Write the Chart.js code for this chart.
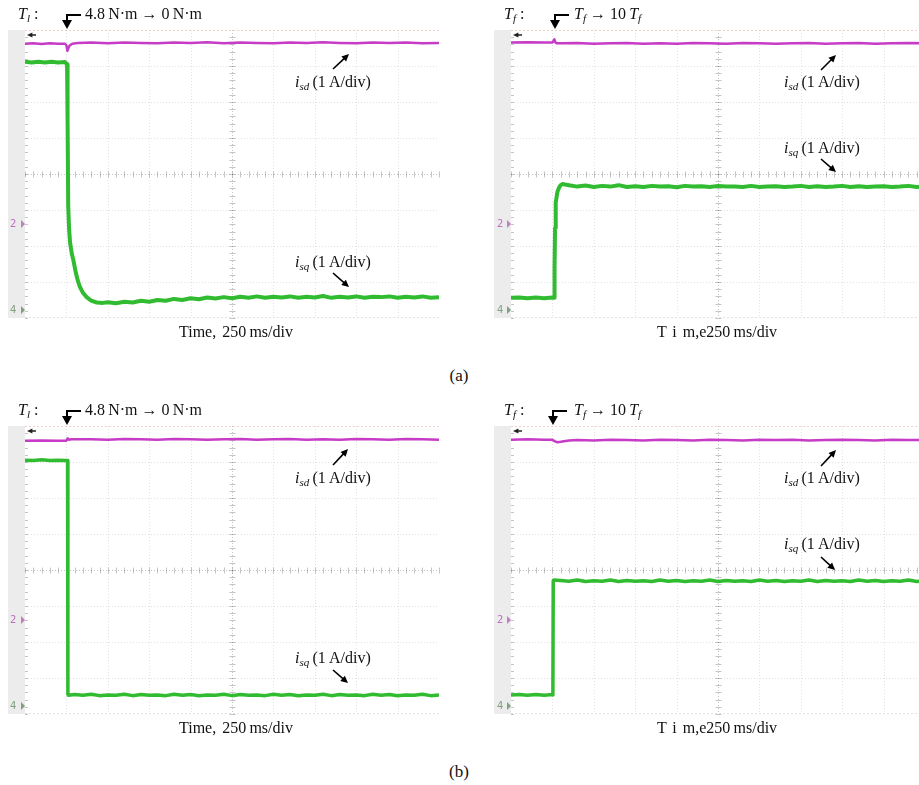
<!DOCTYPE html>
<html>
<head>
<meta charset="utf-8">
<script src="https://cdn.jsdelivr.net/npm/chart.js@4.4.0/dist/chart.umd.min.js"></script>
<style>
  html, body { margin: 0; padding: 0; background: #fff; overflow: hidden; }
  body { width: 919px; height: 785px; position: relative; font-family: "Liberation Serif", "DejaVu Serif", serif; color: #111; }
  canvas { position: absolute; }
  .lbl { position: absolute; white-space: nowrap; font-size: 16px; line-height: 16px; }
  .lbl sub { font-size: 11px; vertical-align: -3px; line-height: 0; }
  .mid { transform: translateX(-50%); }
  .ax { word-spacing: 2px; }
  .cap { font-size: 17px; line-height: 17px; }
  .ch { position: absolute; font-family: "DejaVu Sans", sans-serif; font-size: 10px; line-height: 10px; }
</style>
</head>
<body>
<canvas id="scopeA1" width="459" height="345" style="left:0;top:0"></canvas>
<canvas id="scopeA2" width="480" height="345" style="left:459px;top:0"></canvas>
<canvas id="scopeB1" width="459" height="345" style="left:0;top:396px"></canvas>
<canvas id="scopeB2" width="480" height="345" style="left:459px;top:396px"></canvas>

<!-- (a) -->
<div class="lbl" style="left:18px;top:6px"><i>T</i><sub><i>l</i></sub> :</div>
<div class="lbl" style="left:85px;top:6px">4.8&thinsp;N·m → 0&thinsp;N·m</div>
<div class="lbl" style="left:504px;top:6px"><i>T</i><sub><i>f</i></sub> :</div>
<div class="lbl" style="left:574px;top:6px"><i>T</i><sub><i>f</i></sub> → 10&thinsp;<i>T</i><sub><i>f</i></sub></div>
<div class="lbl" style="left:295px;top:74px"><i>i</i><sub><i>sd</i></sub>&thinsp;(1&thinsp;A/div)</div>
<div class="lbl" style="left:295px;top:254px"><i>i</i><sub><i>sq</i></sub>&thinsp;(1&thinsp;A/div)</div>
<div class="lbl" style="left:784px;top:74px"><i>i</i><sub><i>sd</i></sub>&thinsp;(1&thinsp;A/div)</div>
<div class="lbl" style="left:784px;top:140px"><i>i</i><sub><i>sq</i></sub>&thinsp;(1&thinsp;A/div)</div>
<div class="lbl mid ax" style="left:236px;top:324px">Time, 250&thinsp;ms/div</div>
<div class="lbl mid ax" style="left:717px;top:324px">T i m,e250&thinsp;ms/div</div>
<div class="lbl mid cap" style="left:459px;top:367px">(a)</div>

<!-- (b) -->
<div class="lbl" style="left:18px;top:402px"><i>T</i><sub><i>l</i></sub> :</div>
<div class="lbl" style="left:85px;top:402px">4.8&thinsp;N·m → 0&thinsp;N·m</div>
<div class="lbl" style="left:504px;top:402px"><i>T</i><sub><i>f</i></sub> :</div>
<div class="lbl" style="left:574px;top:402px"><i>T</i><sub><i>f</i></sub> → 10&thinsp;<i>T</i><sub><i>f</i></sub></div>
<div class="lbl" style="left:295px;top:470px"><i>i</i><sub><i>sd</i></sub>&thinsp;(1&thinsp;A/div)</div>
<div class="lbl" style="left:295px;top:650px"><i>i</i><sub><i>sq</i></sub>&thinsp;(1&thinsp;A/div)</div>
<div class="lbl" style="left:784px;top:470px"><i>i</i><sub><i>sd</i></sub>&thinsp;(1&thinsp;A/div)</div>
<div class="lbl" style="left:784px;top:536px"><i>i</i><sub><i>sq</i></sub>&thinsp;(1&thinsp;A/div)</div>
<div class="lbl mid ax" style="left:236px;top:720px">Time, 250&thinsp;ms/div</div>
<div class="lbl mid ax" style="left:717px;top:720px">T i m,e250&thinsp;ms/div</div>
<div class="lbl mid cap" style="left:459px;top:763px">(b)</div>

<!-- channel markers -->
<div class="ch" style="left:10px;top:219px;color:#c070c0">2</div>
<div class="ch" style="left:10px;top:305px;color:#80a080">4</div>
<div class="ch" style="left:497px;top:219px;color:#c070c0">2</div>
<div class="ch" style="left:497px;top:305px;color:#80a080">4</div>
<div class="ch" style="left:10px;top:615px;color:#c070c0">2</div>
<div class="ch" style="left:10px;top:701px;color:#80a080">4</div>
<div class="ch" style="left:497px;top:615px;color:#c070c0">2</div>
<div class="ch" style="left:497px;top:701px;color:#80a080">4</div>

<script>
// time in ms (250 ms/div, 10 div), values in divisions (1 A/div, -4..4)

// (a) left: load torque step 4.8 N·m -> 0 N·m
const tA1d = [0, 50, 100, 150, 200, 240, 250, 256, 262, 270, 285, 320,
  400, 500, 600, 700, 800, 900, 1000, 1100, 1200, 1300, 1400, 1500, 1600, 1700, 1800, 1900, 2000, 2100, 2200, 2300, 2400, 2500];
const vA1d = [3.62, 3.63, 3.61, 3.63, 3.62, 3.62, 3.58, 3.42, 3.50, 3.57, 3.62, 3.64,
  3.65, 3.63, 3.65, 3.64, 3.63, 3.65, 3.64, 3.66, 3.63, 3.65, 3.64, 3.63, 3.65, 3.64, 3.66, 3.64, 3.63, 3.65, 3.64, 3.65, 3.63, 3.64];
const tA1q = [0, 40, 80, 120, 160, 200, 240,
  254, 257, 261, 266, 272, 282, 292, 305, 318, 332, 350, 372, 400, 433, 470,
  500, 550, 600, 650, 700, 750, 800, 850, 900, 950,
  1000, 1050, 1100, 1150, 1200, 1250, 1300, 1350, 1400, 1450,
  1500, 1550, 1600, 1650, 1700, 1750, 1800, 1850, 1900, 1950,
  2000, 2050, 2100, 2150, 2200, 2250, 2300, 2350, 2400, 2450, 2500];
const vA1q = [3.12, 3.10, 3.12, 3.10, 3.12, 3.10, 3.11,
  3.05, 1.5, -0.9, -1.5, -1.9, -2.2, -2.39, -2.7, -2.95, -3.14, -3.3, -3.42, -3.52, -3.57, -3.58,
  -3.56, -3.59, -3.55, -3.57, -3.52, -3.55, -3.50, -3.52, -3.47, -3.50,
  -3.45, -3.48, -3.43, -3.46, -3.42, -3.45, -3.41, -3.44, -3.40, -3.44,
  -3.41, -3.43, -3.40, -3.44, -3.41, -3.43, -3.39, -3.44, -3.41, -3.43,
  -3.40, -3.44, -3.41, -3.42, -3.40, -3.44, -3.41, -3.43, -3.40, -3.44, -3.42];

// (a) right: friction step Tf -> 10 Tf
const tA2d = [0, 100, 200, 250, 262, 268, 275, 300,
  400, 500, 600, 700, 800, 900, 1000, 1100, 1200, 1300, 1400, 1500, 1600, 1700, 1800, 1900, 2000, 2100, 2200, 2300, 2400, 2500];
const vA2d = [3.65, 3.66, 3.65, 3.65, 3.74, 3.66, 3.63, 3.63,
  3.64, 3.62, 3.63, 3.64, 3.62, 3.63, 3.62, 3.64, 3.63, 3.62, 3.64, 3.63, 3.62, 3.63, 3.64, 3.62, 3.63, 3.64, 3.62, 3.63, 3.64, 3.63];
const tA2q = [0, 50, 100, 150, 200, 250, 260,
  263, 266, 270, 280, 290, 300, 310,
  350, 400, 450, 500, 550, 600, 650, 700, 750, 800,
  850, 900, 950, 1000, 1050, 1100, 1150, 1200, 1250, 1300,
  1350, 1400, 1450, 1500, 1550, 1600, 1650, 1700, 1750, 1800,
  1850, 1900, 1950, 2000, 2050, 2100, 2150, 2200, 2250, 2300,
  2350, 2400, 2450, 2500];
const vA2q = [-3.44, -3.43, -3.45, -3.43, -3.45, -3.43, -3.44,
  -2.6, -1.5, -0.8, -0.5, -0.38, -0.31, -0.28,
  -0.31, -0.35, -0.32, -0.36, -0.33, -0.35, -0.31, -0.36, -0.34, -0.36,
  -0.33, -0.35, -0.34, -0.37, -0.33, -0.35, -0.34, -0.36, -0.33, -0.35,
  -0.35, -0.36, -0.33, -0.36, -0.35, -0.34, -0.36, -0.35, -0.33, -0.36,
  -0.34, -0.36, -0.35, -0.33, -0.36, -0.34, -0.36, -0.35, -0.34, -0.36,
  -0.35, -0.33, -0.36, -0.35];

// (b) left
const tB1d = [0, 100, 200, 250, 258, 265, 280, 350,
  400, 500, 600, 700, 800, 900, 1000, 1100, 1200, 1300, 1400, 1500, 1600, 1700, 1800, 1900, 2000, 2100, 2200, 2300, 2400, 2500];
const vB1d = [3.59, 3.60, 3.59, 3.59, 3.66, 3.62, 3.63, 3.63,
  3.63, 3.62, 3.64, 3.63, 3.62, 3.64, 3.63, 3.62, 3.63, 3.64, 3.62, 3.63, 3.64, 3.62, 3.63, 3.62, 3.64, 3.63, 3.62, 3.64, 3.63, 3.62];
const tB1q = [0, 50, 100, 150, 200, 250, 257, 259, 262,
  300, 350, 400, 450, 500, 550, 600, 650, 700, 750,
  800, 850, 900, 950, 1000, 1050, 1100, 1150, 1200, 1250,
  1300, 1350, 1400, 1450, 1500, 1550, 1600, 1650, 1700, 1750,
  1800, 1850, 1900, 1950, 2000, 2050, 2100, 2150, 2200, 2250,
  2300, 2350, 2400, 2450, 2500];
const vB1q = [3.05, 3.04, 3.06, 3.04, 3.05, 3.04, 3.04, -3.45, -3.48,
  -3.46, -3.48, -3.45, -3.49, -3.47, -3.48, -3.45, -3.49, -3.46, -3.48,
  -3.47, -3.49, -3.45, -3.48, -3.46, -3.49, -3.47, -3.48, -3.45, -3.49,
  -3.46, -3.48, -3.47, -3.49, -3.45, -3.48, -3.46, -3.49, -3.47, -3.48,
  -3.45, -3.49, -3.46, -3.48, -3.47, -3.49, -3.45, -3.48, -3.46, -3.49,
  -3.47, -3.48, -3.45, -3.49, -3.47];

// (b) right
const tB2d = [0, 100, 200, 250, 262, 280, 300, 350,
  400, 500, 600, 700, 800, 900, 1000, 1100, 1200, 1300, 1400, 1500, 1600, 1700, 1800, 1900, 2000, 2100, 2200, 2300, 2400, 2500];
const vB2d = [3.62, 3.63, 3.62, 3.62, 3.58, 3.55, 3.56, 3.60,
  3.61, 3.60, 3.62, 3.61, 3.60, 3.62, 3.61, 3.60, 3.62, 3.61, 3.60, 3.62, 3.61, 3.62, 3.60, 3.61, 3.62, 3.61, 3.60, 3.62, 3.61, 3.61];
const tB2q = [0, 50, 100, 150, 200, 250, 253, 255, 258,
  300, 350, 400, 450, 500, 550, 600, 650, 700, 750,
  800, 850, 900, 950, 1000, 1050, 1100, 1150, 1200, 1250,
  1300, 1350, 1400, 1450, 1500, 1550, 1600, 1650, 1700, 1750,
  1800, 1850, 1900, 1950, 2000, 2050, 2100, 2150, 2200, 2250,
  2300, 2350, 2400, 2450, 2500];
const vB2q = [-3.47, -3.46, -3.48, -3.46, -3.48, -3.46, -3.47, -0.30, -0.28,
  -0.29, -0.31, -0.28, -0.32, -0.30, -0.31, -0.28, -0.32, -0.29, -0.31,
  -0.30, -0.32, -0.28, -0.31, -0.29, -0.32, -0.30, -0.31, -0.28, -0.32,
  -0.29, -0.31, -0.30, -0.32, -0.28, -0.31, -0.29, -0.32, -0.30, -0.31,
  -0.28, -0.32, -0.29, -0.31, -0.30, -0.32, -0.28, -0.31, -0.29, -0.32,
  -0.30, -0.31, -0.28, -0.32, -0.30];

// time of the disturbance marked by the bent arrow above each screen
const stepTimes = [252, 268, 252, 255];

const isdColor = '#c63cc6';
const isqColor = '#30bb30';

function arrow(ctx, x1, y1, x2, y2, head) {
  const a = Math.atan2(y2 - y1, x2 - x1);
  ctx.beginPath();
  ctx.moveTo(x1, y1);
  ctx.lineTo(x2 - Math.cos(a) * head * 0.7, y2 - Math.sin(a) * head * 0.7);
  ctx.stroke();
  ctx.beginPath();
  ctx.moveTo(x2, y2);
  ctx.lineTo(x2 - head * Math.cos(a - 0.45), y2 - head * Math.sin(a - 0.45));
  ctx.lineTo(x2 - head * Math.cos(a + 0.45), y2 - head * Math.sin(a + 0.45));
  ctx.closePath();
  ctx.fill();
}

const scopePlugin = {
  id: 'scope',
  beforeDraw(chart) {
    const ctx = chart.ctx, a = chart.chartArea;
    ctx.save();
    ctx.fillStyle = '#ececec';
    ctx.fillRect(a.left - 17, a.top, 17, a.bottom - a.top);
    ctx.fillStyle = '#ffffff';
    ctx.fillRect(a.left, a.top, a.right - a.left, a.bottom - a.top);
    ctx.restore();
  },
  beforeDatasetsDraw(chart) {
    const ctx = chart.ctx, a = chart.chartArea;
    const xs = chart.scales.x, ys = chart.scales.y;
    ctx.save();
    ctx.lineWidth = 1;
    ctx.setLineDash([1, 2]);
    for (let v = 250; v < 2500; v += 250) {
      const px = Math.round(xs.getPixelForValue(v)) + 0.5;
      ctx.strokeStyle = v === 1250 ? 'rgba(90,90,90,0.35)' : 'rgba(110,110,110,0.2)';
      ctx.beginPath(); ctx.moveTo(px, a.top); ctx.lineTo(px, a.bottom); ctx.stroke();
    }
    for (let v = -3; v <= 3; v += 1) {
      const py = Math.round(ys.getPixelForValue(v)) + 0.5;
      ctx.strokeStyle = v === 0 ? 'rgba(90,90,90,0.35)' : 'rgba(110,110,110,0.2)';
      ctx.beginPath(); ctx.moveTo(a.left, py); ctx.lineTo(a.right, py); ctx.stroke();
    }
    // minor ticks on the centre cross
    ctx.setLineDash([]);
    ctx.strokeStyle = 'rgba(90,90,90,0.35)';
    const cx = Math.round(xs.getPixelForValue(1250)) + 0.5;
    const cy = Math.round(ys.getPixelForValue(0)) + 0.5;
    for (let v = 0; v <= 2500; v += 50) {
      const px = Math.round(xs.getPixelForValue(v)) + 0.5;
      ctx.beginPath(); ctx.moveTo(px, cy - 3); ctx.lineTo(px, cy + 3); ctx.stroke();
    }
    for (let v = -4; v <= 4; v += 0.2) {
      const py = Math.round(ys.getPixelForValue(v)) + 0.5;
      ctx.beginPath(); ctx.moveTo(cx - 3, py); ctx.lineTo(cx + 3, py); ctx.stroke();
      ctx.beginPath(); ctx.moveTo(a.left, py); ctx.lineTo(a.left + 3, py); ctx.stroke();
    }
    // faint tinted frame on top and bottom
    ctx.setLineDash([2, 2]);
    ctx.strokeStyle = 'rgba(225,150,130,0.45)';
    ctx.beginPath(); ctx.moveTo(a.left, a.top + 0.5); ctx.lineTo(a.right, a.top + 0.5); ctx.stroke();
    ctx.strokeStyle = 'rgba(200,170,200,0.4)';
    ctx.beginPath(); ctx.moveTo(a.left, a.bottom - 0.5); ctx.lineTo(a.right, a.bottom - 0.5); ctx.stroke();
    ctx.restore();
  },
  afterDraw(chart, args, opts) {
    const ctx = chart.ctx, a = chart.chartArea;
    ctx.save();
    // trigger marker at the top-left of the screen
    ctx.fillStyle = '#222'; ctx.strokeStyle = '#222'; ctx.lineWidth = 1.5;
    arrow(ctx, a.left + 11, a.top + 5, a.left + 2, a.top + 5, 6);
    // channel reference markers
    ctx.fillStyle = '#c080c0';
    ctx.beginPath(); ctx.moveTo(a.left - 4, a.top + 190); ctx.lineTo(a.left - 4, a.top + 198); ctx.lineTo(a.left, a.top + 194); ctx.fill();
    ctx.fillStyle = '#80a080';
    ctx.beginPath(); ctx.moveTo(a.left - 4, a.top + 276); ctx.lineTo(a.left - 4, a.top + 284); ctx.lineTo(a.left, a.top + 280); ctx.fill();
    // bent arrow pointing at the disturbance instant
    const sx = Math.round(chart.scales.x.getPixelForValue(opts.step));
    ctx.strokeStyle = '#000'; ctx.fillStyle = '#000'; ctx.lineWidth = 2;
    ctx.beginPath();
    ctx.moveTo(sx + 14, a.top - 15);
    ctx.lineTo(sx, a.top - 15);
    ctx.lineTo(sx, a.top - 9);
    ctx.stroke();
    ctx.beginPath();
    ctx.moveTo(sx - 5, a.top - 10);
    ctx.lineTo(sx + 5, a.top - 10);
    ctx.lineTo(sx, a.top - 1);
    ctx.closePath();
    ctx.fill();
    // label arrows
    ctx.lineWidth = 1.6;
    opts.arrows.forEach(p => arrow(ctx, p[0], p[1], p[2], p[3], 8));
    ctx.restore();
  }
};

function makeScope(id, tD, vD, tQ, vQ, padLeft, padRight, step, qWidth, arrows) {
  new Chart(document.getElementById(id), {
    type: 'line',
    data: {
      datasets: [
        { label: 'isd', data: tD.map((t, i) => ({ x: t, y: vD[i] })), borderColor: isdColor, borderWidth: 2.5 },
        { label: 'isq', data: tQ.map((t, i) => ({ x: t, y: vQ[i] })), borderColor: isqColor, borderWidth: qWidth }
      ]
    },
    options: {
      responsive: false,
      animation: false,
      layout: { padding: { left: padLeft, right: padRight, top: 30, bottom: 27 } },
      elements: { point: { radius: 0 }, line: { tension: 0, borderJoinStyle: 'round' } },
      plugins: {
        legend: { display: false },
        tooltip: { enabled: false },
        scope: { step: step, arrows: arrows }
      },
      scales: {
        x: { type: 'linear', min: 0, max: 2500, display: false },
        y: { type: 'linear', min: -4, max: 4, display: false }
      }
    },
    plugins: [scopePlugin]
  });
}

makeScope('scopeA1', tA1d, vA1d, tA1q, vA1q, 25, 20, stepTimes[0], 4,
  [[333, 69, 349, 54], [333, 273, 349, 287]]);
makeScope('scopeA2', tA2d, vA2d, tA2q, vA2q, 52, 14, stepTimes[1], 4,
  [[362, 70, 377, 55], [362, 159, 377, 172]]);
makeScope('scopeB1', tB1d, vB1d, tB1q, vB1q, 25, 20, stepTimes[2], 3.5,
  [[333, 69, 348, 53], [333, 274, 348, 287]]);
makeScope('scopeB2', tB2d, vB2d, tB2q, vB2q, 52, 14, stepTimes[3], 3.5,
  [[362, 70, 377, 54], [362, 161, 376, 174]]);
</script>
</body>
</html>
